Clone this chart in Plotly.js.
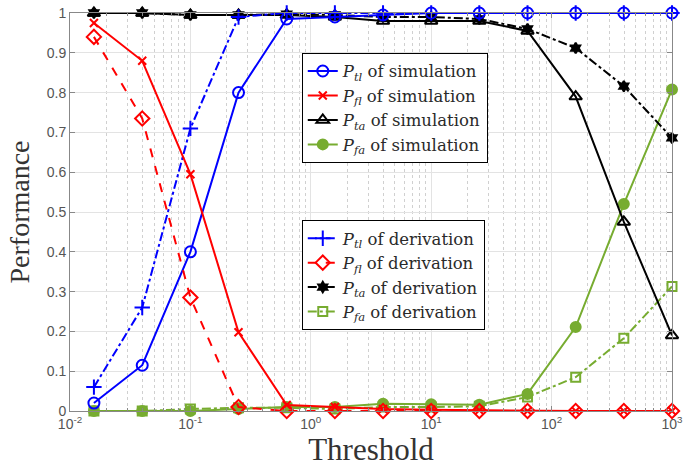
<!DOCTYPE html>
<html>
<head>
<meta charset="utf-8">
<script src="https://cdn.plot.ly/plotly-3.0.1.min.js"></script>
<style>body{margin:0;background:#fff}#chart{width:700px;height:475px}</style>
</head>
<body>
<div id="chart"></div>
<script>
// Threshold values (log-spaced, 10^-1.8 ... 10^3)
const thresholds = [0.0158, 0.0398, 0.1, 0.251, 0.631, 1.585, 3.98, 10, 25.1, 63.1, 158.5, 398, 1000];

// Simulation
const ptlSim = [0.02, 0.115, 0.40, 0.80, 0.985, 0.99, 0.995, 1, 1, 1, 1, 1, 1];
const pflSim = [0.975, 0.88, 0.595, 0.198, 0.015, 0.01, 0.005, 0.003, 0.002, 0, 0, 0, 0];
const ptaSim = [1, 1, 0.995, 0.995, 0.995, 0.99, 0.98, 0.98, 0.98, 0.955, 0.79, 0.475, 0.19];
const pfaSim = [0, 0, 0, 0.005, 0.01, 0.01, 0.018, 0.017, 0.016, 0.043, 0.211, 0.52, 0.808];

// Derivation
const ptlDer = [0.06, 0.26, 0.71, 0.99, 1, 1, 1, 1, 1, 1, 1, 1, 1];
const pflDer = [0.94, 0.735, 0.285, 0.01, 0, 0, 0, 0, 0, 0, 0, 0, 0];
const ptaDer = [1, 1, 0.995, 0.995, 0.997, 0.995, 0.99, 0.99, 0.985, 0.96, 0.912, 0.816, 0.686];
const pfaDer = [0, 0, 0.005, 0.008, 0.008, 0.005, 0.01, 0.01, 0.012, 0.035, 0.085, 0.183, 0.313];

// Tick labels
const xTickVals = [0.01, 0.1, 1, 10, 100, 1000];
const xTickText = ['10<sup>-2</sup>', '10<sup>-1</sup>', '10<sup>0</sup>', '10<sup>1</sup>', '10<sup>2</sup>', '10<sup>3</sup>'];
const yTickVals = [0, 0.1, 0.2, 0.3, 0.4, 0.5, 0.6, 0.7, 0.8, 0.9, 1];
const yTickText = ['0', '0.1', '0.2', '0.3', '0.4', '0.5', '0.6', '0.7', '0.8', '0.9', '1'];

// Legend names
const names = {
  ptlSim: '<i>P</i><sub><i>tl</i></sub> of simulation',
  pflSim: '<i>P</i><sub><i>fl</i></sub> of simulation',
  ptaSim: '<i>P</i><sub><i>ta</i></sub> of simulation',
  pfaSim: '<i>P</i><sub><i>fa</i></sub> of simulation',
  ptlDer: '<i>P</i><sub><i>tl</i></sub> of derivation',
  pflDer: '<i>P</i><sub><i>fl</i></sub> of derivation',
  ptaDer: '<i>P</i><sub><i>ta</i></sub> of derivation',
  pfaDer: '<i>P</i><sub><i>fa</i></sub> of derivation'
};

const BLUE = '#0000ff', RED = '#ff0000', BLACK = '#000000', GREEN = '#77ac30';

function tr(y, name, color, dash, symbol, size, legend, rank) {
  return {
    x: thresholds, y: y, name: name, type: 'scatter', mode: 'lines+markers',
    line: {color: color, width: 2, dash: dash},
    marker: {symbol: symbol, size: size, color: color,
             line: {color: color, width: 2}},
    cliponaxis: false,
    legend: legend, legendrank: rank
  };
}

const data = [
  tr(pfaDer, names.pfaDer, GREEN, 'dashdot', 'square-open', 9, 'legend2', 8),
  tr(pfaSim, names.pfaSim, GREEN, 'solid', 'circle', 10, 'legend', 4),
  tr(ptaDer, names.ptaDer, BLACK, 'dashdot', 'hexagram', 8, 'legend2', 7),
  tr(ptaSim, names.ptaSim, BLACK, 'solid', 'triangle-up-open', 11, 'legend', 3),
  tr(ptlDer, names.ptlDer, BLUE, 'dashdot', 'cross-thin-open', 11, 'legend2', 5),
  tr(ptlSim, names.ptlSim, BLUE, 'solid', 'circle-open', 11, 'legend', 1),
  tr(pflDer, names.pflDer, RED, 'dash', 'diamond-open', 11, 'legend2', 6),
  tr(pflSim, names.pflSim, RED, 'solid', 'x-thin-open', 8, 'legend', 2)
];

const legendStyle = {
  font: {family: 'DejaVu Serif, serif', size: 16.5, color: '#2a2a2a'},
  bgcolor: '#ffffff', bordercolor: '#000', borderwidth: 1,
  xanchor: 'left', yanchor: 'top', tracegroupgap: 0, itemwidth: 30,
  traceorder: 'normal'
};

const layout = {
  width: 700, height: 475,
  margin: {l: 70, r: 28, t: 13, b: 64},
  paper_bgcolor: '#fff', plot_bgcolor: '#fff',
  showlegend: true,
  legend: Object.assign({x: 0.385, y: 0.9}, legendStyle),
  legend2: Object.assign({x: 0.385, y: 0.48}, legendStyle),
  xaxis: {
    type: 'log', range: [-2, 3],
    tickvals: xTickVals, ticktext: xTickText,
    tickfont: {family: 'Liberation Sans, Arial, sans-serif', size: 14, color: '#555'},
    showgrid: true, gridcolor: '#e3e3e3', gridwidth: 1,
    minor: {dtick: 'D1', showgrid: true, gridcolor: '#d0d0d0', griddash: 'dot', gridwidth: 1,
            ticks: 'inside', ticklen: 3, tickcolor: '#888'},
    ticks: 'inside', ticklen: 5, tickcolor: '#888',
    showline: true, linecolor: '#888', linewidth: 1, mirror: 'ticks',
    zeroline: false,
    title: {text: 'Threshold', font: {family: 'Liberation Serif, serif', size: 31, color: '#333'}, standoff: 6}
  },
  yaxis: {
    range: [0, 1],
    tickvals: yTickVals, ticktext: yTickText,
    tickfont: {family: 'Liberation Sans, Arial, sans-serif', size: 14, color: '#555'},
    showgrid: true, gridcolor: '#e3e3e3', gridwidth: 1,
    ticks: 'inside', ticklen: 5, tickcolor: '#888',
    showline: true, linecolor: '#888', linewidth: 1, mirror: 'ticks',
    zeroline: false,
    title: {text: 'Performance', font: {family: 'Liberation Serif, serif', size: 28, color: '#333'}, standoff: 8}
  }
};

Plotly.newPlot('chart', data, layout, {displayModeBar: false, staticPlot: true});
</script>
</body>
</html>
